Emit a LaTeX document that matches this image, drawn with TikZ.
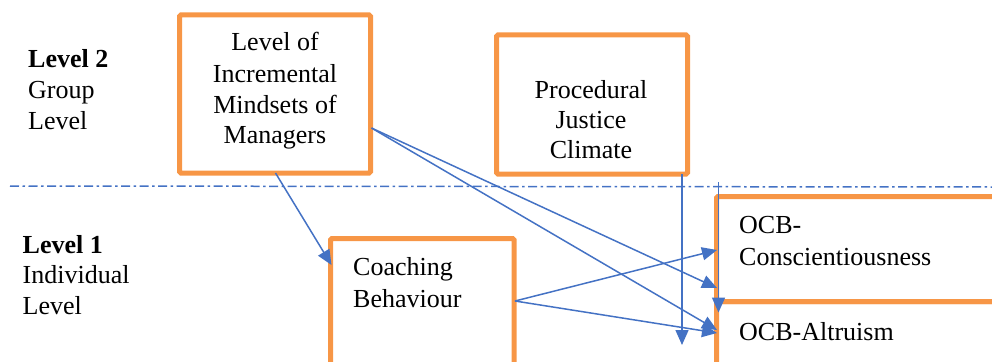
\documentclass[tikz,border=0pt]{standalone}
\usepackage{fontspec}
\setmainfont{Liberation Serif}
\newfontfamily\diagfont{Liberation Serif}
\usetikzlibrary{arrows.meta,calc}
\definecolor{boxorange}{RGB}{247,150,70}
\definecolor{arrowblue}{RGB}{68,114,196}
\begin{document}
\begin{tikzpicture}[x=1pt,y=-1pt,
  box/.style={draw=boxorange,line width=5pt,rounded corners=1.5pt,outer sep=0pt,inner sep=0pt,anchor=north west},
  txt/.style={inner sep=0pt,font=\diagfont\fontsize{26}{31}\selectfont},
  boldtxt/.style={txt,font=\diagfont\fontsize{26}{31}\selectfont\bfseries},
  conn/.style={draw=arrowblue,line width=1.5pt,-{Triangle[length=15pt,width=13pt]}},
  levelline/.style={draw=arrowblue,line width=1.5pt,dash pattern=on 9pt off 3.5pt on 2.5pt off 3.5pt}]
\useasboundingbox (0,0) rectangle (992,361);
\begin{scope}
\clip (0,0) rectangle (992,361);
% boxes
\node[box,minimum width=191pt,minimum height=158pt] (imm) at (179.5,15) {};
\node[box,minimum width=191pt,minimum height=139pt] (pjc) at (496.5,35) {};
\node[box,minimum width=183.5pt,minimum height=135pt] (coach) at (330.5,238.5) {};
\node[box,minimum width=300pt,minimum height=105pt] (ocbc) at (716.5,196.5) {};
\node[box,minimum width=300pt,minimum height=70pt] (ocba) at (716.5,301.5) {};
\end{scope}
% level divider
\coordinate (divL) at (10,186);
\coordinate (divR) at (992,187);
\draw[levelline] (divL) -- (divR);
% level labels
\node[boldtxt,anchor=base west] (l2a) at (28,67) {Level 2};
\node[txt,anchor=base west] (l2b) at (28,98) {Group};
\node[txt,anchor=base west] (l2c) at (28,129) {Level};
\node[boldtxt,anchor=base west] (l1a) at (22.5,253) {Level 1};
\node[txt,anchor=base west] (l1b) at (22.5,283) {Individual};
\node[txt,anchor=base west] (l1c) at (22.5,314) {Level};
% box texts
\node[txt,anchor=base] (t1a) at (275,51) {Level of};
\node[txt,anchor=base] (t1b) at (275,82) {Incremental};
\node[txt,anchor=base] (t1c) at (275,113) {Mindsets of};
\node[txt,anchor=base] (t1d) at (275,143) {Managers};
\node[txt,anchor=base] (t2a) at (591,98) {Procedural};
\node[txt,anchor=base] (t2b) at (591,128) {Justice};
\node[txt,anchor=base] (t2c) at (591,158) {Climate};
\node[txt,anchor=base west] (t3a) at (353,275) {Coaching};
\node[txt,anchor=base west] (t3b) at (353,307) {Behaviour};
\node[txt,anchor=base west] (t4a) at (739,233) {OCB-};
\node[txt,anchor=base west] (t4b) at (739,265) {Conscientiousness};
\node[txt,anchor=base west] (t5a) at (739,340) {OCB-Altruism};
% connectors
\draw[conn] ($(imm.south)+(0.5,0)$) -- ($(coach.north west)+(1,26.5)$);
\draw[conn] ($(imm.south east)+(1,-45)$) -- ($(ocbc.north west)+(0.5,91.5)$);
\draw[conn] ($(imm.south east)+(1,-45)$) -- ($(ocba.north west)+(0.5,28.5)$);
\draw[conn] ($(coach.north east)+(1,62.5)$) -- ($(ocbc.north west)+(0.5,53.5)$);
\draw[conn] ($(coach.north east)+(1,62.5)$) -- ($(ocba.north west)+(0.5,31.5)$);
\coordinate (pjcend) at (682,345);
\draw[conn] ($(pjc.south east)+(-5.5,0)$) -- (pjcend);
\coordinate (l2start) at (718.5,182);
\draw[conn] (l2start) -- ($(ocba.north west)+(2,11)$);
\end{tikzpicture}
\end{document}
